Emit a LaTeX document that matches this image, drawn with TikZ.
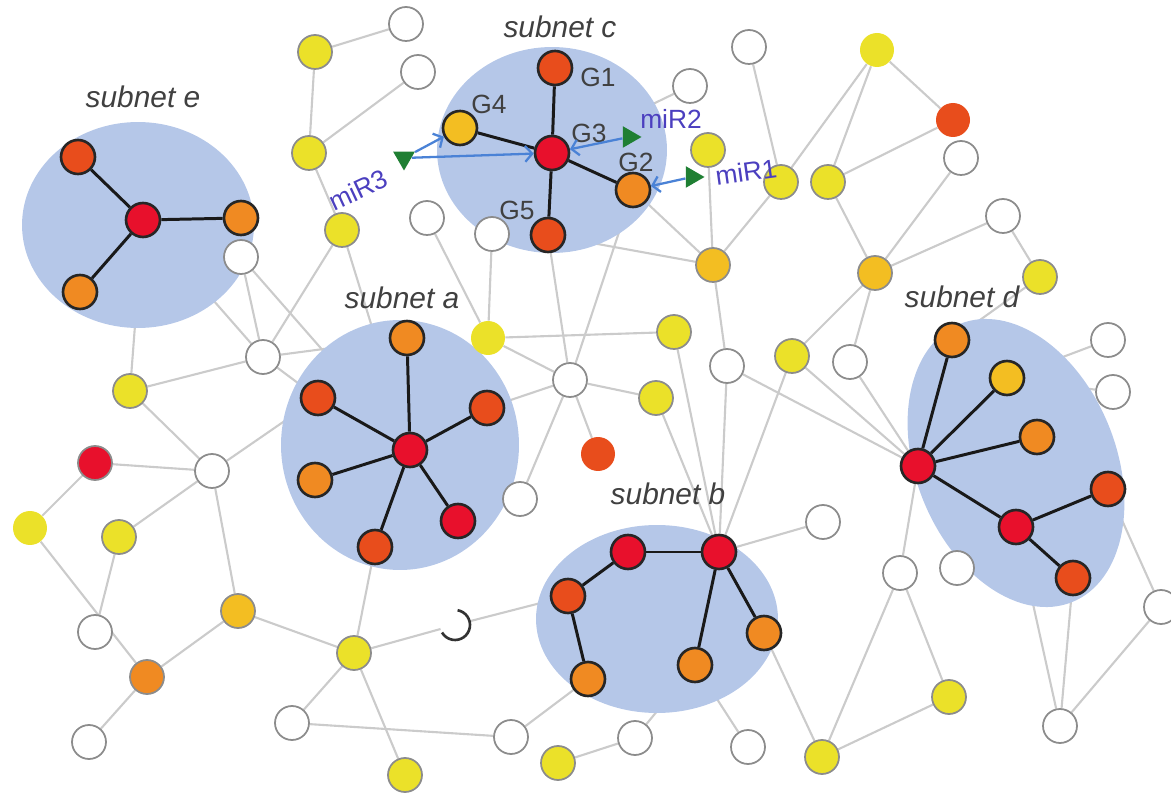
\documentclass[tikz,border=0pt]{standalone}
\usepackage{fontspec}
\setmainfont{Liberation Sans}
\usetikzlibrary{shapes.geometric,arrows.meta}

\pgfdeclarelayer{links}
\pgfdeclarelayer{blobs}
\pgfsetlayers{links,blobs,main}

\definecolor{hubred}{HTML}{E8102C}
\definecolor{redorange}{HTML}{E84D1C}
\definecolor{amber}{HTML}{F08A22}
\definecolor{goldfill}{HTML}{F3BE22}
\definecolor{lemon}{HTML}{EBE129}
\definecolor{bluefill}{HTML}{B5C7E8}
\definecolor{linkgray}{HTML}{CBCBCB}
\definecolor{mirblue}{HTML}{4B3FBF}
\definecolor{arrowblue}{HTML}{4A82D6}
\definecolor{mirgreen}{HTML}{1F7F33}

\begin{document}
\begin{tikzpicture}[
  x=0.02cm, y=-0.02cm,
  gene/.style={circle, minimum size=.68cm, inner sep=0pt, draw=black!85, line width=1.5pt, fill=#1},
  other/.style={circle, minimum size=.68cm, inner sep=0pt, draw=black!45, line width=1pt, fill=#1},
  other/.default=white,
  bare/.style={circle, minimum size=.68cm, inner sep=0pt, fill=#1},
  blob/.style={ellipse, fill=bluefill, inner sep=0pt},
  link/.style={draw=linkgray, line width=1.2pt},
  tie/.style={draw=black!90, line width=1.7pt},
  hit/.style={-{Straight Barb[length=4pt,width=9pt]}, draw=arrowblue, line width=1.3pt},
  mir/.style={regular polygon, regular polygon sides=3, fill=mirgreen, minimum size=.5cm, inner sep=0pt},
  tag/.style={font=\fontsize{17}{17}\selectfont\itshape, text=black!75},
  glabel/.style={font=\fontsize{15}{15}\selectfont, text=black!75},
  mirtag/.style={font=\fontsize{15}{15}\selectfont, text=mirblue}
]
  \useasboundingbox (0,0) rectangle (1171,800);

  % subnets
  \begin{pgfonlayer}{blobs}
    \node[blob, minimum width=4.64cm, minimum height=4.12cm] (subE) at (138,225) {};
    \node[blob, minimum width=4.6cm, minimum height=4.12cm] (subC) at (552,150) {};
    \node[blob, minimum width=4.76cm, minimum height=5cm] (subA) at (400,445) {};
    \node[blob, minimum width=4.84cm, minimum height=3.76cm] (subB) at (657,619) {};
    \node[blob, minimum width=6cm, minimum height=4cm, rotate=-68] (subD) at (1016,463) {};
  \end{pgfonlayer}

  \node[tag] (tagE) at (143,97) {subnet e};
  \node[tag] (tagC) at (560,27) {subnet c};
  \node[tag] (tagA) at (402,298) {subnet a};
  \node[tag] (tagB) at (668,494) {subnet b};
  \node[tag] (tagD) at (962,297) {subnet d};

  % subnet e
  \node[gene=hubred] (e0) at (143,220) {};
  \node[gene=redorange] (e1) at (78,157) {};
  \node[gene=amber] (e2) at (241,218) {};
  \node[gene=amber] (e3) at (80,292) {};

  % subnet c
  \node[gene=hubred] (G3) at (552,153) {};
  \node[gene=redorange] (G1) at (555,68) {};
  \node[gene=goldfill] (G4) at (460,128) {};
  \node[gene=amber] (G2) at (633,190) {};
  \node[gene=redorange] (G5) at (548,235) {};
  \node[glabel] at (598,77) {G1};
  \node[glabel] at (489,104) {G4};
  \node[glabel] at (589,133) {G3};
  \node[glabel] at (636,162) {G2};
  \node[glabel] at (517,210) {G5};

  % subnet a
  \node[gene=hubred] (a0) at (410,450) {};
  \node[gene=amber] (a1) at (407,338) {};
  \node[gene=redorange] (a2) at (487,408) {};
  \node[gene=redorange] (a3) at (318,398) {};
  \node[gene=amber] (a4) at (315,480) {};
  \node[gene=hubred] (a5) at (458,521) {};
  \node[gene=redorange] (a6) at (375,547) {};

  % subnet b
  \node[gene=hubred] (b1) at (628,552) {};
  \node[gene=hubred] (b2) at (719,552) {};
  \node[gene=redorange] (b3) at (568,596) {};
  \node[gene=amber] (b4) at (588,679) {};
  \node[gene=amber] (b5) at (695,665) {};
  \node[gene=amber] (b6) at (764,633) {};

  % subnet d
  \node[gene=hubred] (d0) at (918,466) {};
  \node[gene=amber] (d1) at (952,340) {};
  \node[gene=goldfill] (d2) at (1007,378) {};
  \node[gene=amber] (d3) at (1037,437) {};
  \node[gene=hubred] (d4) at (1016,527) {};
  \node[gene=redorange] (d5) at (1108,489) {};
  \node[gene=redorange] (d6) at (1073,578) {};

  % rest of the network
  \node[other=lemon] (n1) at (315,52) {};
  \node[other] (n2) at (406,24) {};
  \node[other] (n3) at (418,72) {};
  \node[other=lemon] (n4) at (309,153) {};
  \node[other=lemon] (n5) at (342,230) {};
  \node[other] (n6) at (241,257) {};
  \node[other] (n7) at (263,357) {};
  \node[other=lemon] (n8) at (130,391) {};
  \node[other=hubred] (n9) at (95,463) {};
  \node[other] (n10) at (212,471) {};
  \node[bare=lemon] (n11) at (30,528) {};
  \node[other=lemon] (n12) at (119,537) {};
  \node[other] (n13) at (95,632) {};
  \node[other=amber] (n14) at (147,677) {};
  \node[other] (n15) at (89,742) {};
  \node[other=goldfill] (n16) at (238,611) {};
  \node[other=lemon] (n17) at (354,653) {};
  \node[other] (n18) at (292,723) {};
  \node[other=lemon] (n19) at (405,775) {};
  \node[circle, minimum size=.6cm, inner sep=0pt, outer sep=0pt] (n20) at (455,625) {};
  \draw[black!80, line width=1.5pt] (n20.80) arc[start angle=80, end angle=-150, radius=.3cm];
  \node[bare=lemon] (n21) at (488,338) {};
  \node[other] (n22) at (427,218) {};
  \node[other] (n23) at (492,234) {};
  \node[other=lemon] (n24) at (674,332) {};
  \node[other] (n25) at (570,380) {};
  \node[other=goldfill] (n26) at (713,265) {};
  \node[other=lemon] (n27) at (708,150) {};
  \node[other=lemon] (n28) at (781,182) {};
  \node[other] (n29) at (727,366) {};
  \node[bare=lemon] (n30) at (877,50) {};
  \node[other=lemon] (n31) at (828,182) {};
  \node[bare=redorange] (n32) at (953,120) {};
  \node[other=goldfill] (n33) at (875,273) {};
  \node[other] (n34) at (961,158) {};
  \node[other] (n35) at (1003,216) {};
  \node[other=lemon] (n36) at (1040,277) {};
  \node[other=lemon] (n37) at (792,356) {};
  \node[other] (n38) at (850,362) {};
  \node[other=lemon] (n40) at (656,398) {};
  \node[bare=redorange] (n41) at (598,454) {};
  \node[other] (n42) at (520,499) {};
  \node[other] (n43) at (900,573) {};
  \node[other] (n44) at (957,568) {};
  \node[other=lemon] (n45) at (822,757) {};
  \node[other=lemon] (n46) at (949,697) {};
  \node[other] (n47) at (1060,726) {};
  \node[other] (n48) at (1161,607) {};
  \node[other] (n49) at (1108,340) {};
  \node[other] (n50) at (1113,392) {};
  \node[other] (n51) at (823,522) {};
  \node[other] (n53) at (511,737) {};
  \node[other=lemon] (n54) at (558,763) {};
  \node[other] (n55) at (635,738) {};
  \node[other] (n56) at (748,747) {};
  \node[other] (n57) at (690,86) {};
  \node[other] (n58) at (749,47) {};

  \begin{pgfonlayer}{links}
    \foreach \a/\b in {n1/n2, n1/n4, n4/n3, n4/n5, n5/n7, n5/a0, n6/n7, n6/a0,
        n7/n8, n7/e0, n7/a1, n7/a3, n8/e0, n8/n10, n9/n10, n9/n11, n10/n12,
        n10/a3, n10/n16, n11/n14, n12/n13, n14/n15, n14/n16, n16/n17,
        n17/n18, n17/n19, n17/a6, n17/n20, n20/b3, n18/n53, n53/b4, n54/n55,
        n55/b5, n56/b5, n22/n21, n23/n21, n21/n24, n21/n25, n25/n40, n25/n41,
        n25/n42, n25/a2, G5/n25, G2/n25, G5/n26, G2/n26, n27/n26, n28/n26,
        n26/n29, n58/n28, n30/n28, n30/n31, n30/n32, n31/n32, n31/n33,
        n34/n33, n35/n33, n35/n36, n33/n37, n33/n38, n24/b2, n40/b2, n29/b2,
        n37/b2, n29/d0, n37/d0, n38/d0, b2/n51, d0/n43, n43/n45, n43/n46,
        n45/n46, b6/n45, n47/n48, n47/d4, n47/d6, d5/n48, n49/d2, n50/d2,
        d1/n36, n57/G3}
      \draw[link] (\a) -- (\b);
  \end{pgfonlayer}

  % edges inside the subnets
  \foreach \a/\b in {e0/e1, e0/e2, e0/e3, G3/G1, G3/G4, G3/G2, G3/G5,
      a0/a1, a0/a2, a0/a3, a0/a4, a0/a5, a0/a6, b1/b2, b1/b3, b3/b4,
      b2/b5, b2/b6, d0/d1, d0/d2, d0/d3, d0/d4, d4/d5, d4/d6}
    \draw[tie] (\a) -- (\b);

  % microRNAs
  \node[mir, shape border rotate=180] (mir3) at (404,158) {};
  \node[mir, shape border rotate=150] (mir2) at (629,137) {};
  \node[mir, shape border rotate=150] (mir1) at (692,177) {};
  \draw[hit] (mir3) -- (G4);
  \draw[hit] (mir3) -- (G3);
  \draw[hit] (mir2) -- (G3);
  \draw[hit] (mir1) -- (G2);
  \node[mirtag, rotate=25] at (358,190) {miR3};
  \node[mirtag] at (671,119) {miR2};
  \node[mirtag, rotate=8] at (746,172) {miR1};
\end{tikzpicture}
\end{document}
